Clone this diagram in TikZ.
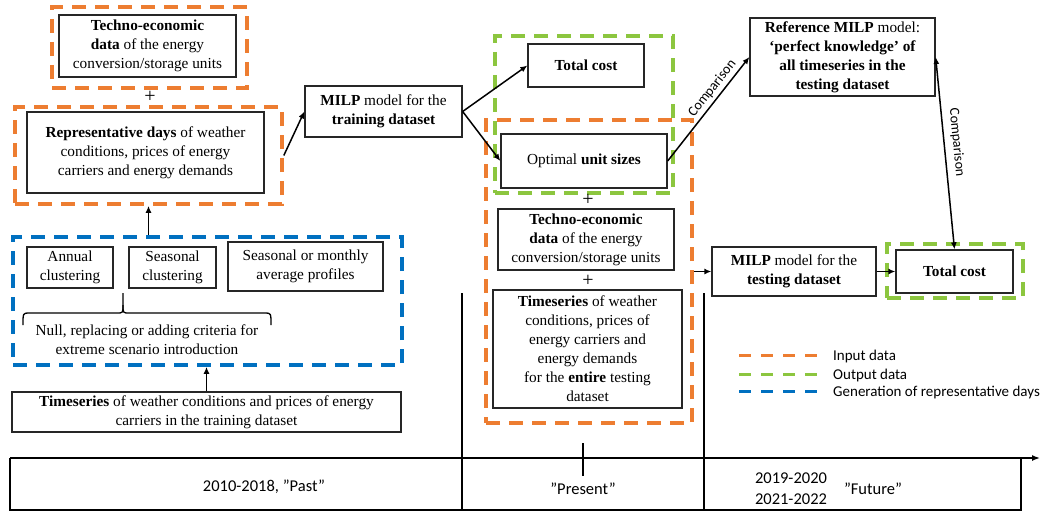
\documentclass[tikz,border=0pt]{standalone}
\usepackage{fontspec}
\setmainfont{Liberation Serif}
\newfontfamily\calib{Carlito}
\usetikzlibrary{arrows.meta}
\definecolor{dorange}{RGB}{237,125,49}
\definecolor{dgreen}{RGB}{140,198,63}
\definecolor{dblue}{RGB}{0,112,192}
\begin{document}
\begin{tikzpicture}[x=1pt,y=-1pt,
  box/.style={draw=black!85, line width=1.3pt, fill=white, align=center, inner sep=0pt,
    font=\rmfamily\fontsize{15.3}{19}\selectfont},
  plain/.style={align=center, inner sep=0pt, font=\rmfamily\fontsize{15.3}{19}\selectfont},
  plus/.style={inner sep=0pt, font=\rmfamily\fontsize{20}{20}\selectfont},
  dbox/.style={draw=#1, line width=3.6pt, dash pattern=on 14pt off 9pt, inner sep=0pt},
  legline/.style={draw=#1, line width=3pt, dash pattern=on 12pt off 10pt},
  arr/.style={line width=1.5pt, -{Latex[length=7pt,width=6pt]}},
  darr/.style={line width=1.5pt, {Latex[length=7pt,width=6pt]}-{Latex[length=7pt,width=6pt]}},
  lab/.style={font=\calib\fontsize{14}{16}\selectfont, inner sep=1pt},
  tl/.style={font=\calib\fontsize{16.5}{21}\selectfont, inner sep=0pt, align=center},
  legtext/.style={font=\calib\fontsize{15}{17}\selectfont, inner sep=0pt, anchor=west}
]
\useasboundingbox (0,0) rectangle (1044,511);

% dashed group boxes
\node[dbox=dorange, minimum width=195pt, minimum height=81pt] (od1) at (149.5,47.5) {};
\node[dbox=dorange, minimum width=267pt, minimum height=97pt] (od2) at (148.5,155.5) {};
\node[dbox=dblue, minimum width=389pt, minimum height=128pt] (bd) at (207.5,301) {};
\node[dbox=dorange, minimum width=206pt, minimum height=303pt] (od3) at (589,271.5) {};
\node[dbox=dgreen, minimum width=178pt, minimum height=157pt] (gd1) at (584,114.5) {};
\node[dbox=dgreen, minimum width=136pt, minimum height=54pt] (gd2) at (955,271) {};

% boxes
\node[box, minimum width=177pt, minimum height=62pt] (te1) at (147.5,46)
  {\textbf{Techno-economic}\\ \textbf{data} of the energy\\ conversion/storage units};
\node[plus] (plus1) at (150,97) {+};
\node[box, minimum width=237pt, minimum height=81pt] (rd) at (145.5,152.5)
  {\textbf{Representative days} of weather\\ conditions, prices of energy\\ carriers and energy demands};
\node[box, minimum width=86pt, minimum height=41pt] (ac) at (70,267.5) {Annual\\ clustering};
\node[box, minimum width=87pt, minimum height=41pt] (sc) at (172.5,267.5) {Seasonal\\ clustering};
\node[box, minimum width=155pt, minimum height=49pt] (sm) at (305.5,266.5) {Seasonal or monthly\\ average profiles};
\node[plain] (nul) at (147,340) {Null, replacing or adding criteria for\\ extreme scenario introduction};
\node[box, minimum width=389pt, minimum height=40pt] (ts1) at (206.5,412)
  {\textbf{Timeseries} of weather conditions and prices of energy\\ carriers in the training dataset};
\node[box, minimum width=157pt, minimum height=51pt] (milp1) at (383.5,111.5)
  {\textbf{MILP} model for the\\ \textbf{training dataset}};
\node[box, minimum width=116pt, minimum height=43pt] (tc1) at (586,65.5) {\textbf{Total cost}};
\node[box, minimum width=166pt, minimum height=54pt] (ous) at (584,161) {Optimal \textbf{unit sizes}};
\node[plus] (plus2) at (588,200) {+};
\node[box, minimum width=176pt, minimum height=61pt] (te2) at (586,239.5)
  {\textbf{Techno-economic}\\ \textbf{data} of the energy\\ conversion/storage units};
\node[plus] (plus3) at (588,281) {+};
\node[box, minimum width=189pt, minimum height=118pt] (ts2) at (587.5,349)
  {\textbf{Timeseries} of weather\\ conditions, prices of\\ energy carriers and\\ energy demands\\ for the \textbf{entire} testing\\ dataset};
\node[box, minimum width=185pt, minimum height=78pt] (ref) at (842.5,57)
  {\textbf{Reference MILP} model:\\ \textbf{‘perfect knowledge’ of}\\ \textbf{all timeseries in the}\\ \textbf{testing dataset}};
\node[box, minimum width=164pt, minimum height=49pt] (milp2) at (794,271.5)
  {\textbf{MILP} model for the\\ \textbf{testing dataset}};
\node[box, minimum width=117pt, minimum height=43pt] (tc2) at (954.5,271.5) {\textbf{Total cost}};

% brace
\draw[line width=1.3pt] (23,325) .. controls (23,313) .. (29,313) -- (117,313)
  .. controls (123,313) .. (123,305) -- (123,293);
\draw[line width=1.3pt] (123,305) .. controls (123,313) .. (129,313) -- (265,313)
  .. controls (271,313) .. (271,325);

% connectors
\draw[arr] (ts1.north) -- (ts1.north |- bd.south);
\draw[arr] (od2.south |- bd.north) -- (od2.south);
\draw[arr] (od2.east) -- (milp1.west);
\draw[arr] (milp1.east) -- (tc1.west);
\draw[arr] (milp1.east) -- (ous.west);
\draw[arr] (ous.east) -- node[lab, pos=0.64, above=2pt, sloped] {Comparison} (ref.west);
\draw[darr] (ref.east) -- node[lab, pos=0.45, above=5pt, sloped] {Comparison} (tc2.north);
\draw[arr] (od3.east) -- (milp2.west);
\draw[arr] (milp2.east) -- (tc2.west);

% legend
\node[legtext] (lg1) at (833,356) {Input data};
\node[legtext] (lg2) at (833,375) {Output data};
\node[legtext] (lg3) at (833,392) {Generation of representative days};
\draw[legline=dorange] (739,355) -- (817,355);
\draw[legline=dgreen] (739,374) -- (817,374);
\draw[legline=dblue] (739,391) -- (817,391);

% timeline
\coordinate (d1t) at (462,293); \coordinate (d1b) at (462,510);
\coordinate (d2t) at (704,293); \coordinate (d2b) at (704,510);
\coordinate (tls) at (10,458); \coordinate (tle) at (1040,458);
\draw[line width=1.3pt] (d1t) -- (d1b);
\draw[line width=1.3pt] (d2t) -- (d2b);
\draw[line width=1.3pt] (10,458) -- (10,510) -- (1021,510) -- (1021,458);
\draw[line width=1.5pt, -{Latex[length=8pt,width=6pt]}] (tls) -- (tle);
\draw[line width=1.3pt] (583,443) -- (583,476);
\node[tl] (past) at (264,487) {2010-2018, ”Past”};
\node[tl] (pres) at (583,489) {”Present”};
\node[tl] (yrs) at (791,488.5) {2019-2020\\2021-2022};
\node[tl] (fut) at (873,489) {”Future”};
\end{tikzpicture}
\end{document}
